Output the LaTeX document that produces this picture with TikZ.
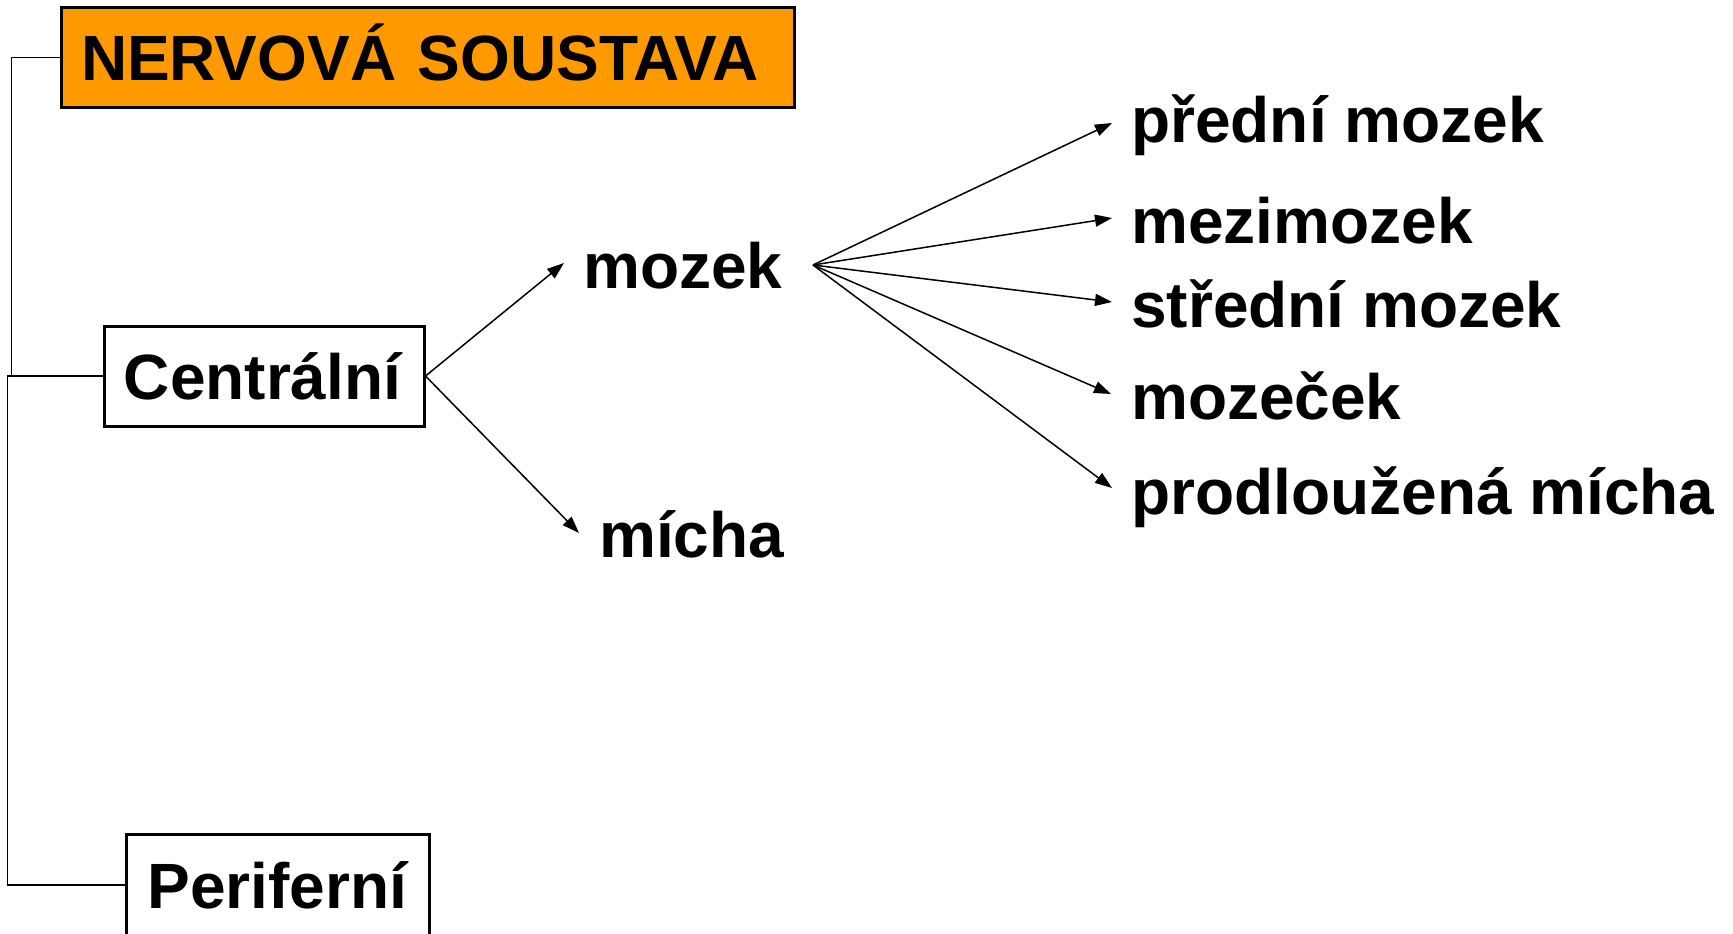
\documentclass[tikz,border=0pt]{standalone}
\usepackage{fontspec}
\setmainfont{Liberation Sans}
\usetikzlibrary{arrows.meta}
\definecolor{nsorange}{RGB}{255,153,0}
\newcommand\bigfont{\fontsize{64}{76}\selectfont\bfseries}
\begin{document}
\begin{tikzpicture}[x=1pt,y=-1pt,
  txt/.style={font=\bigfont, inner sep=0pt, anchor=base west},
  boxed/.style={draw, line width=3pt, inner sep=0pt, font=\bigfont, text height=46pt, text depth=0pt},
  conn/.style={line width=1.5pt},
  arr/.style={conn, -{Triangle[length=17pt,width=12pt]}}]
\useasboundingbox (0,0) rectangle (1733,934);
\node[boxed, fill=nsorange, minimum width=733pt, minimum height=99pt, text width=693pt, align=left] (ns) at (427.5,57.5) {NERVOVÁ SOUSTAVA};
\node[boxed, minimum width=320pt, minimum height=100pt, text width=276pt, align=center] (c) at (264,376) {\hspace*{-3pt}Centrální};
\node[boxed, minimum width=303pt, minimum height=102pt] (p) at (277.5,885) {Periferní};
\draw[conn] (ns.west) -- ++(-48,0) |- (c.west);
\draw[conn] (c.west) -- ++(-95,0) |- (p.west);
\node[txt] (mozek) at (583,288) {mozek};
\node[txt] (micha) at (599,557) {mícha};
\node[txt] (t1) at (1131,142) {přední mozek};
\node[txt] (t2) at (1131,243) {mezimozek};
\node[txt] (t3) at (1131,327) {střední mozek};
\node[txt] (t4) at (1131,419) {mozeček};
\node[txt] (t5) at (1131,514) {prodloužená mícha};
\coordinate (mozekIn) at (564,263);
\coordinate (michaIn) at (579,533);
\coordinate (fan) at (813,265);
\coordinate (in1) at (1112,123);
\coordinate (in2) at (1112,218);
\coordinate (in3) at (1112,302);
\coordinate (in4) at (1111,394);
\coordinate (in5) at (1112,488);
\draw[arr] (c.east) -- (mozekIn);
\draw[arr] (c.east) -- (michaIn);
\foreach \i in {1,...,5} \draw[arr] (fan) -- (in\i);
\end{tikzpicture}
\end{document}
